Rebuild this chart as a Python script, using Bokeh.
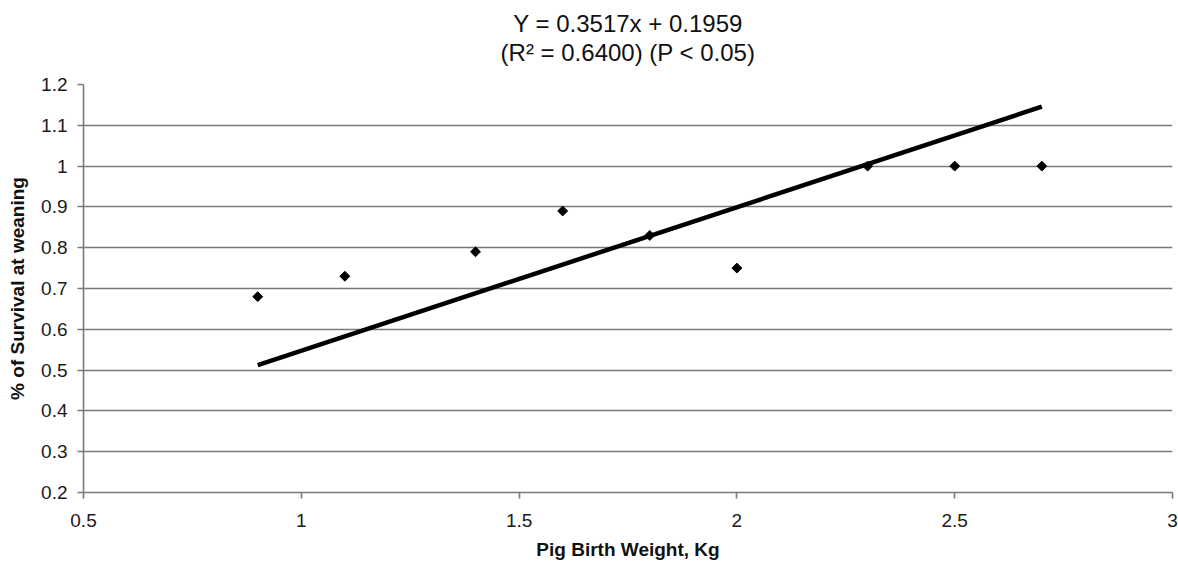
import math
from bokeh.plotting import figure
from bokeh.models import FixedTicker, Title
from bokeh.embed import file_html
from bokeh.resources import INLINE

# Data
birth_weight = [0.9, 1.1, 1.4, 1.6, 1.8, 2.0, 2.3, 2.5, 2.7]
survival = [0.68, 0.73, 0.79, 0.89, 0.83, 0.75, 1.00, 1.00, 1.00]

# Fitted trend line (Y = 0.3517x + 0.1959) end points
trend_x = [0.9, 2.7]
trend_y = [0.5124, 1.1455]

x_ticks = [0.5, 1.0, 1.5, 2.0, 2.5, 3.0]
x_tick_labels = ["0.5", "1", "1.5", "2", "2.5", "3"]
y_ticks = [0.2, 0.3, 0.4, 0.5, 0.6, 0.7, 0.8, 0.9, 1.0, 1.1, 1.2]
y_tick_labels = ["0.2", "0.3", "0.4", "0.5", "0.6", "0.7", "0.8", "0.9", "1", "1.1", "1.2"]

title_line1 = "Y = 0.3517x + 0.1959"
title_line2 = "(R² = 0.6400) (P < 0.05)"

FONT = "Liberation Sans"
GRID = "#7a7a7a"

p = figure(width=1178, height=565, x_range=(0.5, 3.0), y_range=(0.2, 1.2),
           output_backend="svg", toolbar_location=None,
           min_border_left=83, min_border_right=6, min_border_top=84, min_border_bottom=73)
p.title = None
p.outline_line_color = None
p.background_fill_color = "white"
p.border_fill_color = "white"

spacer = Title(text=" ", align="center", text_font=FONT, text_font_size="2px",
               standoff=15, offset=0)
t2 = Title(text=title_line2, align="center", text_font=FONT, text_font_size="24px",
           text_font_style="normal", text_color="#111111", standoff=0, offset=0)
t1 = Title(text=title_line1, align="center", text_font=FONT, text_font_size="24px",
           text_font_style="normal", text_color="#111111", standoff=0, offset=0)
p.add_layout(spacer, "above")
p.add_layout(t2, "above")
p.add_layout(t1, "above")

p.xgrid.grid_line_color = None
p.ygrid.grid_line_color = GRID
p.ygrid.grid_line_width = 1.6
p.ygrid.ticker = FixedTicker(ticks=y_ticks)

p.xaxis.ticker = FixedTicker(ticks=x_ticks)
p.yaxis.ticker = FixedTicker(ticks=y_ticks)
p.xaxis.major_label_overrides = dict(zip(x_ticks, x_tick_labels))
p.yaxis.major_label_overrides = dict(zip(y_ticks, y_tick_labels))

for ax in (p.xaxis[0], p.yaxis[0]):
    ax.axis_line_color = GRID
    ax.axis_line_width = 1.6
    ax.major_tick_line_color = GRID
    ax.major_tick_line_width = 1.6
    ax.major_tick_out = 6
    ax.major_tick_in = 0
    ax.minor_tick_line_color = None
    ax.major_label_text_font = FONT
    ax.major_label_text_font_size = "19px"
    ax.major_label_text_color = "#1a1a1a"
    ax.axis_label_text_font = FONT
    ax.axis_label_text_font_size = "19px"
    ax.axis_label_text_font_style = "bold"
    ax.axis_label_text_color = "#111111"

p.xaxis.axis_label = "Pig Birth Weight, Kg"
p.yaxis.axis_label = "% of Survival at weaning"
p.xaxis.major_label_standoff = 15
p.xaxis.axis_label_standoff = 9
p.yaxis.major_label_standoff = 10
p.yaxis.axis_label_standoff = 10

p.scatter(birth_weight, survival, marker="square", size=7, angle=math.pi / 4,
          fill_color="black", line_color="black")
p.line(trend_x, trend_y, line_color="black", line_width=4.5)

open("out.html", "w").write(file_html(p, INLINE))
